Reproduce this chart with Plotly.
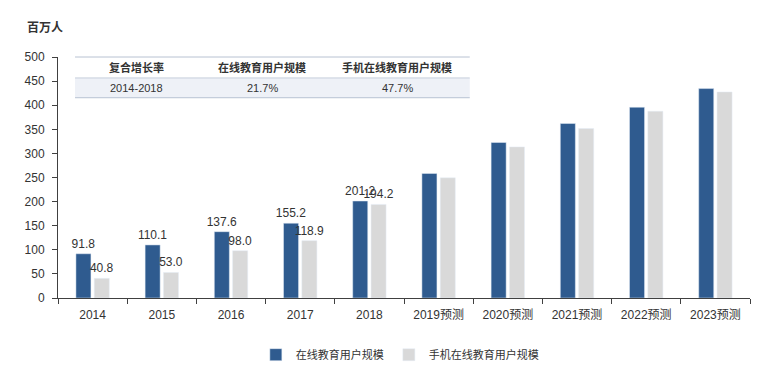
import plotly.graph_objects as go

categories = ["2014", "2015", "2016", "2017", "2018",
              "2019预测", "2020预测", "2021预测", "2022预测", "2023预测"]
online_users = [91.8, 110.1, 137.6, 155.2, 201.2, 258.4, 322.6, 362.0, 395.8, 434.5]
mobile_users = [40.8, 53.0, 98.0, 118.9, 194.2, 249.3, 313.5, 351.6, 387.5, 427.5]
labeled_count = 5  # only actual years carry value labels

series_names = ["在线教育用户规模", "手机在线教育用户规模"]
table_header = ["复合增长率", "在线教育用户规模", "手机在线教育用户规模"]
table_row = ["2014-2018", "21.7%", "47.7%"]
y_ticks = list(range(0, 501, 50))

FONT = "Liberation Sans, Noto Sans CJK SC, sans-serif"
BLUE = "#2f5b8f"
GRAY = "#d9d9d9"
TXT = "#333333"


def labels(vals):
    return [f"{v:.1f}" if i < labeled_count else "" for i, v in enumerate(vals)]


fig = go.Figure()
fig.add_trace(go.Bar(x=categories, y=online_users, name=series_names[0],
                     marker_color=BLUE, text=labels(online_users),
                     textposition="outside", cliponaxis=False, constraintext="none",
                     textfont=dict(size=12, color=TXT, family=FONT)))
fig.add_trace(go.Bar(x=categories, y=mobile_users, name=series_names[1],
                     marker_color=GRAY, text=labels(mobile_users),
                     textposition="outside", cliponaxis=False, constraintext="none",
                     textfont=dict(size=12, color=TXT, family=FONT)))

# table region (paper coords)
tx0, tx1 = 0.0246, 0.595
ytop, ymid, ybot = 1.0, 0.913, 0.831
fig.add_shape(type="rect", xref="paper", yref="paper", x0=tx0, x1=tx1, y0=ybot, y1=ymid,
              fillcolor="#eef1f7", line_width=0, layer="above")
for yy, col in [(ytop, "#b8c2d2"), (ymid, "#c5cedb"), (ybot, "#b8c2d2")]:
    fig.add_shape(type="line", xref="paper", yref="paper", x0=tx0, x1=tx1, y0=yy, y1=yy,
                  line=dict(color=col, width=1), layer="above")
col_x = [0.114, 0.295, 0.490]
for cx, h, r in zip(col_x, table_header, table_row):
    fig.add_annotation(x=cx, y=0.957, xref="paper", yref="paper", text=f"<b>{h}</b>",
                       xanchor="center", yanchor="middle",
                       showarrow=False, font=dict(size=11, color=TXT, family=FONT))
    fig.add_annotation(x=cx, y=0.872, xref="paper", yref="paper", text=r,
                       xanchor="center", yanchor="middle",
                       showarrow=False, font=dict(size=11, color=TXT, family=FONT))

fig.add_annotation(xref="paper", yref="paper", x=(25 - 58) / 692, y=(299 - 28) / 242,
                   xanchor="left", yanchor="middle", text="<b>百万人</b>",
                   showarrow=False, font=dict(size=12, color=TXT, family=FONT))

# page has an 8px body margin, so the figure is drawn 8px smaller and shifted
fig.update_layout(
    width=760, height=372,
    margin=dict(l=50, r=18, t=49, b=81),
    paper_bgcolor="white", plot_bgcolor="white",
    barmode="group", bargap=0.47, bargroupgap=0.18,
    font=dict(family=FONT, size=12, color=TXT),
    showlegend=True,
    legend=dict(orientation="h", x=0.494, xanchor="center", y=-0.23, yanchor="middle",
                font=dict(size=11, color=TXT, family=FONT), itemwidth=30,
                traceorder="normal"),
    xaxis=dict(type="category", showline=True, linecolor="#404040", linewidth=1,
               ticks="outside", tickson="boundaries", ticklen=5, tickcolor="#404040",
               ticklabelstandoff=6,
               tickfont=dict(size=12, color=TXT), showgrid=False),
    yaxis=dict(range=[0, 500], tickvals=y_ticks, showline=True, linecolor="#404040",
               linewidth=1, ticks="outside", ticklen=5, tickcolor="#404040",
               ticklabelstandoff=5,
               tickfont=dict(size=12, color=TXT), showgrid=False, zeroline=False),
)

fig.write_html("out.html")
